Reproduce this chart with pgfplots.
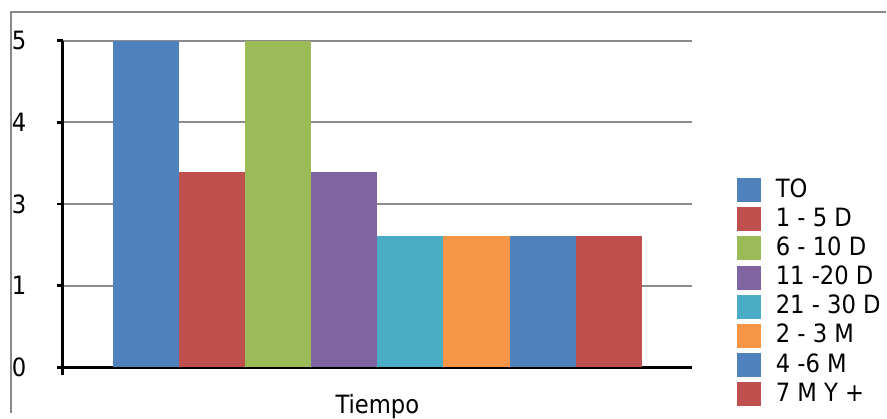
\documentclass[border=0pt]{standalone}
\usepackage{pgfplots}
\pgfplotsset{compat=1.18}
\usepackage{fontspec}
\setmainfont{DejaVu Sans Condensed}
\definecolor{cBlue}{HTML}{4F81BD}
\definecolor{cRed}{HTML}{C0504D}
\definecolor{cGreen}{HTML}{9BBB59}
\definecolor{cPurple}{HTML}{8064A2}
\definecolor{cCyan}{HTML}{4BACC6}
\definecolor{cOrange}{HTML}{F79646}
\definecolor{gridgray}{HTML}{8C8C8C}
\definecolor{framegray}{HTML}{888888}
\newcommand{\chartfont}{\fontsize{25.3bp}{28bp}\selectfont}
\pgfplotsset{
  sq legend/.style={legend image code/.code={\fill[##1] (0bp,-5bp) rectangle (24bp,19bp);}},
}
\begin{document}
\begin{tikzpicture}
\draw[line width=1.8bp, color=framegray] (11bp,-2bp) -- (11bp,401bp) -- (890bp,401bp);
\begin{axis}[
    at={(63bp,44bp)}, anchor=south west,
    scale only axis, width=632bp, height=328bp,
    xmin=-0.5, xmax=0.5, ymin=0, ymax=4,
    ybar=0pt, bar width=66.4bp,
    axis x line*=bottom, axis y line*=left,
    axis line style={line width=2.8bp, black},
    ytick={0,1,2,3,4}, yticklabels={0,1,3,4,5},
    ymajorgrids, grid style={line width=2bp, gridgray},
    tick align=outside, major tick length=6bp,
    ytick style={line width=2.8bp, black},
    xtick={0}, xticklabels={Tiempo}, xtick style={draw=none},
    extra x ticks={-0.5}, extra x tick labels={},
    extra x tick style={major tick length=8bp, xtick style={draw=black, line width=2.8bp}},
    tick label style={font=\chartfont},
    yticklabel style={anchor=east, inner sep=0pt, xshift=-30.5bp},
    xticklabel style={anchor=base, inner sep=0pt, yshift=-40bp},
    legend style={at={(1,1)}, anchor=north west, xshift=45bp, yshift=-134.7bp,
      draw=none, fill=none, inner sep=0pt, row sep=0pt, font=\chartfont,
      nodes={inner sep=0pt, text height=22bp, text depth=7.3bp, anchor=base west},
      /tikz/every odd column/.append style={column sep=15bp}},
    legend cell align=left,
  ]
  \addplot[fill=cBlue, draw=none, sq legend] coordinates {(0,4)};
  \addplot[fill=cRed, draw=none, sq legend] coordinates {(0,2.39)};
  \addplot[fill=cGreen, draw=none, sq legend] coordinates {(0,4)};
  \addplot[fill=cPurple, draw=none, sq legend] coordinates {(0,2.39)};
  \addplot[fill=cCyan, draw=none, sq legend] coordinates {(0,1.61)};
  \addplot[fill=cOrange, draw=none, sq legend] coordinates {(0,1.61)};
  \addplot[fill=cBlue, draw=none, sq legend] coordinates {(0,1.61)};
  \addplot[fill=cRed, draw=none, sq legend] coordinates {(0,1.61)};
  \legend{TO, 1 - 5 D, 6 - 10 D, 11 -20 D, 21 - 30 D, 2 - 3 M, 4 -6 M, 7 M Y +}
\end{axis}
\path[use as bounding box] (0,0) rectangle (887bp,413bp);
\end{tikzpicture}
\end{document}
